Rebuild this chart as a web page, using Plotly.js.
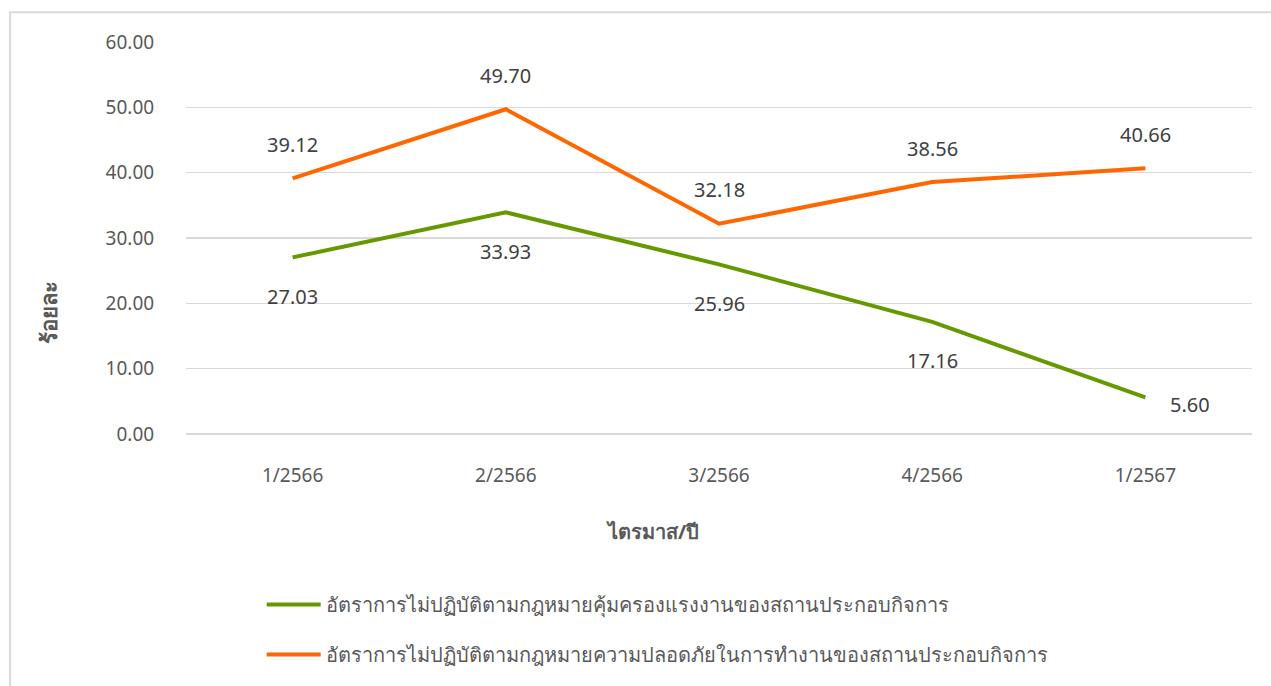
<!DOCTYPE html>
<html>
<head>
<meta charset="utf-8">
<script src="https://cdn.plot.ly/plotly-3.0.1.min.js"></script>
<style>
html,body{margin:0;padding:0;background:#fff;}
#chart{width:1271px;height:686px;}
</style>
</head>
<body>
<div id="chart"></div>
<script>
var categories = ["1/2566", "2/2566", "3/2566", "4/2566", "1/2567"];
var labourValues = [27.03, 33.93, 25.96, 17.16, 5.60];
var safetyValues = [39.12, 49.70, 32.18, 38.56, 40.66];
var labourName = "อัตราการไม่ปฏิบัติตามกฎหมายคุ้มครองแรงงานของสถานประกอบกิจการ";
var safetyName = "อัตราการไม่ปฏิบัติตามกฎหมายความปลอดภัยในการทำงานของสถานประกอบกิจการ";
var yTickVals = [0, 10, 20, 30, 40, 50, 60];
var yTickText = ["0.00", "10.00", "20.00", "30.00", "40.00", "50.00", "60.00"];
var xTitle = "ไตรมาส/ปี";
var yTitle = "ร้อยละ";

var green = "#669900";
var orange = "#ff6600";
var fontFam = "'Noto Sans', 'Open Sans', 'DejaVu Sans', sans-serif";

var traces = [
  {x: categories, y: labourValues, type: "scatter", mode: "lines", name: labourName,
   line: {color: green, width: 4}, legendgroup: "a", hoverinfo: "skip"},
  {x: categories, y: safetyValues, type: "scatter", mode: "lines", name: safetyName,
   line: {color: orange, width: 4}, legendgroup: "b", hoverinfo: "skip"}
];

var annotations = [];
labourValues.forEach(function (v, i) {
  var last = i === labourValues.length - 1;
  annotations.push({x: categories[i], y: v, xref: "x", yref: "y", text: v.toFixed(2),
    showarrow: false, yshift: last ? -7 : -39, xshift: last ? 45 : 0,
    font: {family: fontFam, size: 20, color: "#404040"}});
});
safetyValues.forEach(function (v, i) {
  annotations.push({x: categories[i], y: v, xref: "x", yref: "y", text: v.toFixed(2),
    showarrow: false, yshift: 34,
    font: {family: fontFam, size: 20, color: "#404040"}});
});
annotations.push({x: 0.438, y: -0.288, xref: "paper", yref: "paper", text: "<b>" + xTitle + "</b>",
  showarrow: false, font: {family: fontFam, size: 20, color: "#595959"}});
annotations.push({x: -0.145, y: 0.225, xref: "paper", yref: "paper", text: "<b>" + yTitle + "</b>",
  textangle: -90, showarrow: false, font: {family: fontFam, size: 22, color: "#595959"}});

var layout = {
  width: 1271, height: 686,
  margin: {l: 186, r: 19, t: 42, b: 250, pad: 0},
  paper_bgcolor: "#ffffff", plot_bgcolor: "#ffffff",
  font: {family: fontFam, color: "#595959"},
  showlegend: true,
  legend: {x: 0.071, xanchor: "left", y: -0.385, yanchor: "top", orientation: "v",
    traceorder: "grouped", tracegroupgap: 21, itemwidth: 54,
    font: {family: fontFam, size: 20, color: "#595959"}, bgcolor: "rgba(0,0,0,0)"},
  xaxis: {type: "category", range: [-0.5, 4.5], showgrid: false, zeroline: false, showline: false,
    ticks: "outside", ticklen: 24, tickcolor: "rgba(0,0,0,0)",
    tickfont: {family: fontFam, size: 19, color: "#595959"}, fixedrange: true},
  yaxis: {range: [0, 60], tickvals: yTickVals, ticktext: yTickText, showgrid: true,
    gridcolor: "#d9d9d9", gridwidth: 1.5, zeroline: true, zerolinecolor: "#d9d9d9", zerolinewidth: 1.5,
    showline: false, ticks: "outside", ticklen: 27, tickcolor: "rgba(0,0,0,0)",
    tickfont: {family: fontFam, size: 19, color: "#595959"}, fixedrange: true},
  annotations: annotations,
  shapes: [{type: "rect", xref: "paper", yref: "paper", x0: -0.165, x1: 1.5, y0: -1.5, y1: 1.076,
    line: {color: "#d9d9d9", width: 2}, fillcolor: "rgba(0,0,0,0)", layer: "below"}]
};

Plotly.newPlot("chart", traces, layout, {displayModeBar: false, staticPlot: true});
</script>
</body>
</html>
